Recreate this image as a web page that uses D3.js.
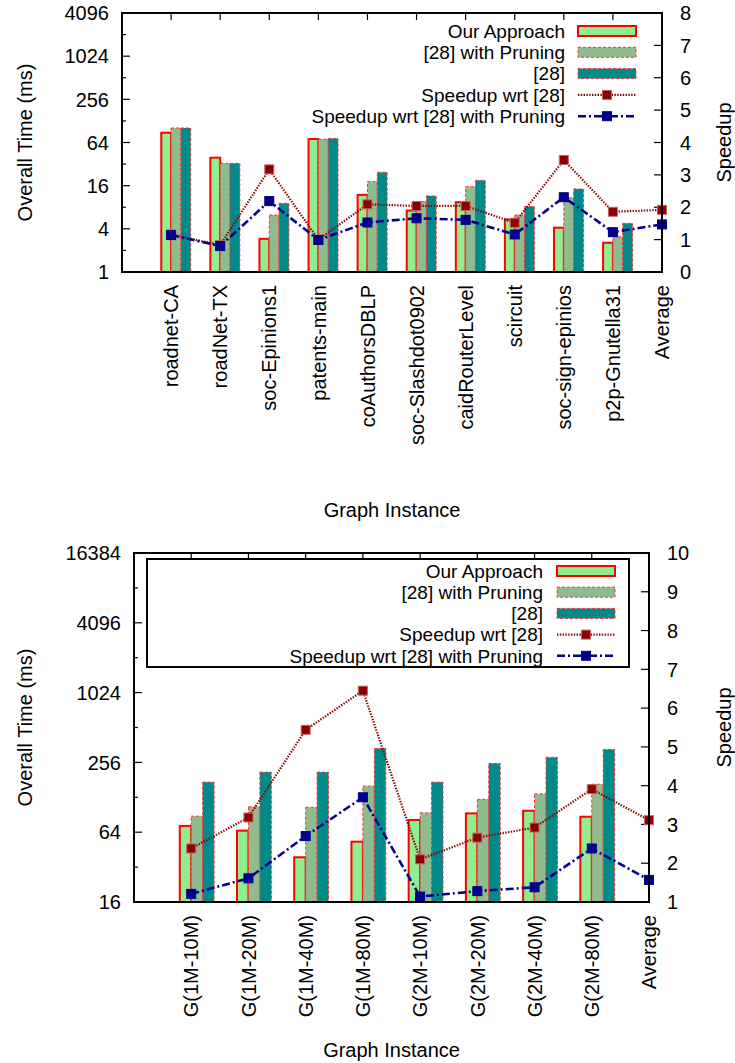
<!DOCTYPE html>
<html>
<head>
<meta charset="utf-8">
<script src="https://cdn.jsdelivr.net/npm/d3@7"></script>
<style>
  body { margin: 0; background: #fff; }
  svg text { font-family: "Liberation Sans", Arial, Helvetica, sans-serif; fill: #000; }
</style>
</head>
<body>
<svg width="735" height="1063"></svg>
<script>
// ---- data: top chart (real-world graphs) ----
const topCategories = ["roadnet-CA", "roadNet-TX", "soc-Epinions1", "patents-main", "coAuthorsDBLP",
    "soc-Slashdot0902", "caidRouterLevel", "scircuit", "soc-sign-epinios", "p2p-Gnutella31", "Average"];
const topOurApproach = [87.6, 39.3, 2.9, 71.6, 11.9, 7.2, 9.4, 5.4, 4.15, 2.56, null];
const topPruning = [102, 32.8, 6.24, 71, 18.2, 9.6, 15.5, 6.24, 10.8, 3.1, null];
const topBase = [102, 32.8, 9.08, 73, 24.6, 11.5, 19.0, 8.2, 14.4, 4.78, null];
const topSpeedup = [1.16, 0.83, 3.17, 1.0, 2.09, 2.04, 2.04, 1.52, 3.46, 1.86, 1.92];
const topSpeedupPruning = [1.14, 0.80, 2.19, 0.99, 1.53, 1.66, 1.61, 1.16, 2.31, 1.23, 1.47];
const topTimeTicks = [1, 4, 16, 64, 256, 1024, 4096];
const topSpeedupTicks = [0, 1, 2, 3, 4, 5, 6, 7, 8];

// ---- data: bottom chart (synthetic graphs) ----
const bottomCategories = ["G(1M-10M)", "G(1M-20M)", "G(1M-40M)", "G(1M-80M)", "G(2M-10M)",
    "G(2M-20M)", "G(2M-40M)", "G(2M-80M)", "Average"];
const bottomOurApproach = [72.5, 66, 38.9, 53, 81.6, 93, 98, 87, null];
const bottomPruning = [88, 106, 105, 160, 94, 123, 137, 166, null];
const bottomBase = [173, 211, 211, 338, 173, 251, 283, 331, null];
const bottomSpeedup = [2.38, 3.18, 5.44, 6.45, 2.10, 2.66, 2.92, 3.91, 3.11];
const bottomSpeedupPruning = [1.21, 1.61, 2.70, 3.70, 1.14, 1.28, 1.38, 2.38, 1.57];
const bottomTimeTicks = [16, 64, 256, 1024, 4096, 16384];
const bottomSpeedupTicks = [1, 2, 3, 4, 5, 6, 7, 8, 9, 10];

const legendLabels = ["Our Approach", "[28] with Pruning", "[28]", "Speedup wrt [28]", "Speedup wrt [28] with Pruning"];

const barStyles = [
    { fill: "#90ee90", stroke: "#ff0000", width: 2, dash: null },
    { fill: "#8fbc8f", stroke: "#ff3030", width: 1, dash: "3,2" },
    { fill: "#008b8b", stroke: "#ff3030", width: 1, dash: "3,2" }
];
const lineStyles = [
    { color: "#8b0000", width: 2.2, dash: "1.4,1.4", pt: "#8b0000", ptStroke: "#c86464" },
    { color: "#00008b", width: 2.6, dash: "8,3,2,3", pt: "#00008b", ptStroke: "#00008b" }
];

const svg = d3.select("svg");

function drawPanel(cfg) {
    const g = svg.append("g");
    const n = cfg.categories.length;

    const x = d3.scaleLinear().domain([-1, n - 1]).range([cfg.left, cfg.right]);
    const y = d3.scaleLog().base(2).domain(cfg.yDomain).range([cfg.bottom, cfg.top]);
    const y2 = d3.scaleLinear().domain(cfg.y2Domain).range([cfg.bottom, cfg.top]);

    // left axis ticks (major + minor), inward
    const lo = Math.log2(cfg.yDomain[0]), hi = Math.log2(cfg.yDomain[1]);
    d3.range(lo, hi + 1).forEach(p => {
        const major = cfg.timeTicks.includes(Math.pow(2, p));
        g.append("line")
            .attr("x1", cfg.left).attr("x2", cfg.left + (major ? 8 : 4))
            .attr("y1", y(Math.pow(2, p))).attr("y2", y(Math.pow(2, p)))
            .attr("stroke", "#000").attr("stroke-width", 1.2);
    });
    g.selectAll(".ylab").data(cfg.timeTicks).enter().append("text")
        .attr("x", cfg.left - 13).attr("y", d => y(d)).attr("dy", "0.36em")
        .attr("text-anchor", "end").attr("font-size", 20).text(d => d);

    // right axis ticks
    g.selectAll(".y2tick").data(cfg.speedupTicks).enter().append("line")
        .attr("x1", cfg.right).attr("x2", cfg.right - 8)
        .attr("y1", d => y2(d)).attr("y2", d => y2(d))
        .attr("stroke", "#000").attr("stroke-width", 1.2);
    g.selectAll(".y2lab").data(cfg.speedupTicks).enter().append("text")
        .attr("x", cfg.right + 18).attr("y", d => y2(d)).attr("dy", "0.36em")
        .attr("text-anchor", "start").attr("font-size", 20).text(d => d);

    // x ticks (bottom and mirrored on top)
    d3.range(n).forEach(i => {
        g.append("line").attr("x1", x(i)).attr("x2", x(i))
            .attr("y1", cfg.top).attr("y2", cfg.top + 7)
            .attr("stroke", "#000").attr("stroke-width", 1.2);
        g.append("line").attr("x1", x(i)).attr("x2", x(i))
            .attr("y1", cfg.bottom).attr("y2", cfg.bottom - 7)
            .attr("stroke", "#000").attr("stroke-width", 1.2);
    });
    g.selectAll(".xlab").data(cfg.categories).enter().append("text")
        .attr("transform", (d, i) => `translate(${x(i)},${cfg.bottom + 13}) rotate(-90)`)
        .attr("dy", "0.36em").attr("text-anchor", "end").attr("font-size", 20).text(d => d);

    // bars
    const series = [cfg.ours, cfg.pruning, cfg.base];
    series.forEach((vals, s) => {
        const st = barStyles[s];
        g.append("g").selectAll("rect").data(vals.map((v, i) => ({ v, i })).filter(d => d.v != null))
            .enter().append("rect")
            .attr("x", d => x(d.i - 0.2 + 0.2 * s))
            .attr("width", x(0.2) - x(0))
            .attr("y", d => y(d.v))
            .attr("height", d => cfg.bottom - y(d.v))
            .attr("fill", st.fill).attr("stroke", st.stroke)
            .attr("stroke-width", st.width)
            .attr("stroke-dasharray", st.dash);
    });

    // speedup lines
    [cfg.speedup, cfg.speedupPruning].forEach((vals, s) => {
        const st = lineStyles[s];
        const line = d3.line().x((d, i) => x(i)).y(d => y2(d));
        g.append("path").attr("d", line(vals)).attr("fill", "none")
            .attr("stroke", st.color).attr("stroke-width", st.width)
            .attr("stroke-dasharray", st.dash);
        g.append("g").selectAll("rect").data(vals).enter().append("rect")
            .attr("x", (d, i) => x(i) - 4.5).attr("y", d => y2(d) - 4.5)
            .attr("width", 9).attr("height", 9)
            .attr("fill", st.pt).attr("stroke", st.ptStroke).attr("stroke-width", 1);
    });

    // border
    g.append("rect").attr("x", cfg.left).attr("y", cfg.top)
        .attr("width", cfg.right - cfg.left).attr("height", cfg.bottom - cfg.top)
        .attr("fill", "none").attr("stroke", "#000").attr("stroke-width", 2);

    // legend
    const L = cfg.legend;
    if (L.box) {
        g.append("rect").attr("x", L.box[0]).attr("y", L.box[1])
            .attr("width", L.box[2] - L.box[0]).attr("height", L.box[3] - L.box[1])
            .attr("fill", "#fff").attr("stroke", "#000").attr("stroke-width", 2);
    }
    legendLabels.forEach((lab, k) => {
        const ly = L.y0 + k * L.dy;
        g.append("text").attr("x", L.textX).attr("y", ly).attr("dy", "0.36em")
            .attr("text-anchor", "end").attr("font-size", 19).text(lab);
        if (k < 3) {
            const st = barStyles[k];
            g.append("rect").attr("x", L.s0).attr("y", ly - 5)
                .attr("width", L.s1 - L.s0).attr("height", 10)
                .attr("fill", st.fill).attr("stroke", st.stroke)
                .attr("stroke-width", st.width).attr("stroke-dasharray", st.dash);
        } else {
            const st = lineStyles[k - 3];
            g.append("line").attr("x1", L.s0).attr("x2", L.s1).attr("y1", ly).attr("y2", ly)
                .attr("stroke", st.color).attr("stroke-width", st.width)
                .attr("stroke-dasharray", st.dash);
            const mx = (L.s0 + L.s1) / 2;
            g.append("rect").attr("x", mx - 4.5).attr("y", ly - 4.5)
                .attr("width", 9).attr("height", 9)
                .attr("fill", st.pt).attr("stroke", st.ptStroke).attr("stroke-width", 1);
        }
    });

    // axis titles
    const midY = (cfg.top + cfg.bottom) / 2;
    g.append("text").attr("transform", `translate(25,${midY}) rotate(-90)`)
        .attr("dy", "0.36em").attr("text-anchor", "middle").attr("font-size", 20)
        .text("Overall Time (ms)");
    g.append("text").attr("transform", `translate(724,${midY}) rotate(-90)`)
        .attr("dy", "0.36em").attr("text-anchor", "middle").attr("font-size", 20)
        .text("Speedup");
    g.append("text").attr("x", (cfg.left + cfg.right) / 2).attr("y", cfg.titleY)
        .attr("dy", "0.36em").attr("text-anchor", "middle").attr("font-size", 20)
        .text("Graph Instance");
}

drawPanel({
    categories: topCategories, ours: topOurApproach, pruning: topPruning, base: topBase,
    speedup: topSpeedup, speedupPruning: topSpeedupPruning,
    timeTicks: topTimeTicks, speedupTicks: topSpeedupTicks,
    yDomain: [1, 4096], y2Domain: [0, 8],
    left: 122, right: 662, top: 13, bottom: 272, titleY: 510,
    legend: { textX: 565, s0: 578, s1: 636, y0: 31, dy: 21.3, box: null }
});

drawPanel({
    categories: bottomCategories, ours: bottomOurApproach, pruning: bottomPruning, base: bottomBase,
    speedup: bottomSpeedup, speedupPruning: bottomSpeedupPruning,
    timeTicks: bottomTimeTicks, speedupTicks: bottomSpeedupTicks,
    yDomain: [16, 16384], y2Domain: [1, 10],
    left: 134, right: 649, top: 553, bottom: 902, titleY: 1050,
    legend: { textX: 543, s0: 557, s1: 615, y0: 571, dy: 21.2, box: [147, 559, 629, 667] }
});
</script>
</body>
</html>
